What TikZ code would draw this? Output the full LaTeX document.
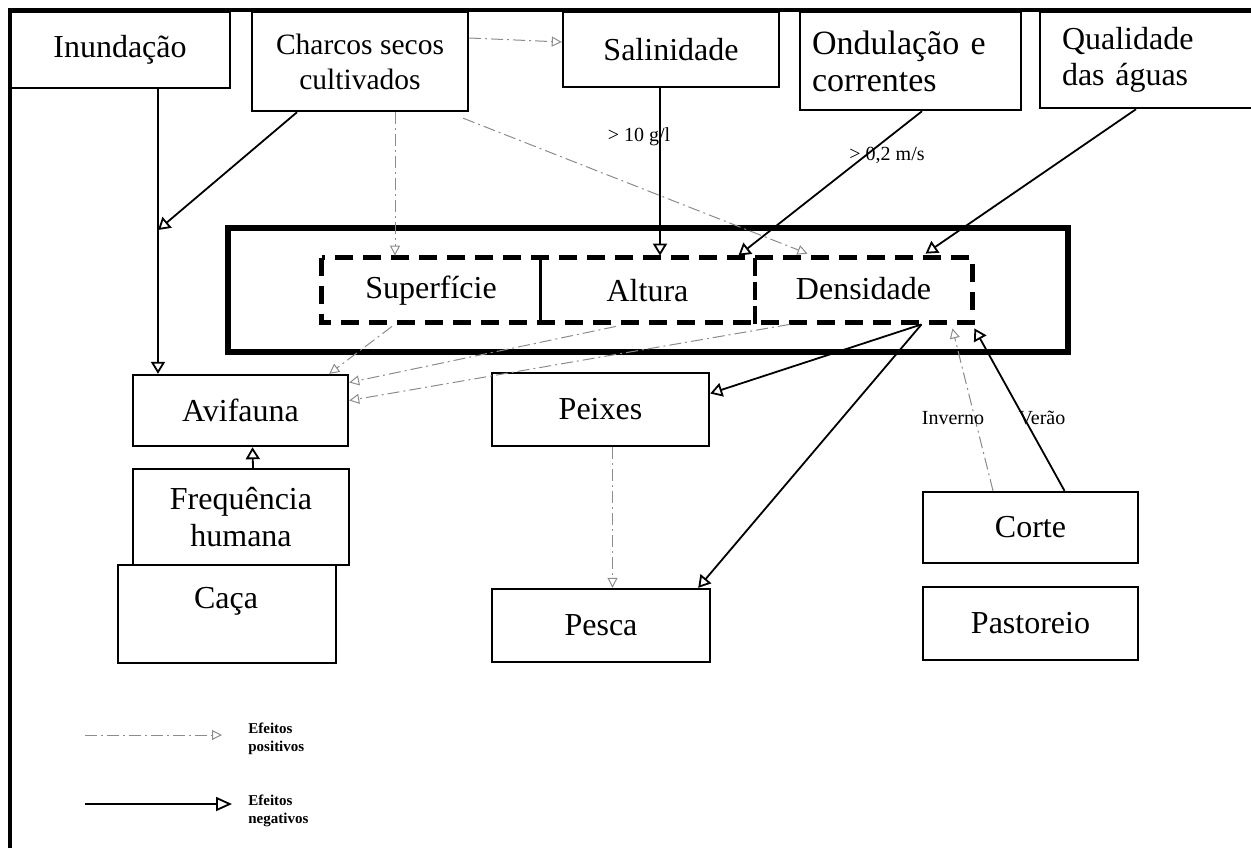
\documentclass[tikz,border=0pt]{standalone}
\usepackage{fontspec}
\setmainfont{Liberation Serif}
\usetikzlibrary{arrows.meta}
\begin{document}
\begin{tikzpicture}[x=0.5pt,y=-0.5pt,
  box/.style={draw, line width=1.2pt, inner sep=0pt, align=center,
              font=\fontsize{16}{18}\selectfont},
  plain/.style={inner sep=0pt, align=center, font=\fontsize{16}{19}\selectfont},
  negfx/.style={draw, line width=0.9pt, -{Triangle[open,length=6pt,width=7pt]}},
  posfx/.style={draw=black!45, line width=0.5pt,
              dash pattern=on 6pt off 2pt on 1pt off 2pt,
              -{Triangle[open,length=5pt,width=5pt]}},
  lbl/.style={font=\fontsize{10}{12}\selectfont, inner sep=1pt},
  legtext/.style={anchor=west, align=left, inner sep=0pt,
                  font=\bfseries\fontsize{7.5}{9}\selectfont},
]
\useasboundingbox (0,0) rectangle (1251,848);

% outer frame (left and top rules)
\draw[line width=2pt] (10,848) -- (10,10) -- (1262,10);

% driving factors along the top
\node[box, minimum width=110pt, minimum height=38pt] (inund) at (120,50) {Inundação};
\node[box, font=\fontsize{14.75}{17.5}\selectfont, minimum width=108pt, minimum height=49.5pt] (charcos) at (360,61.5) {Charcos secos\\cultivados};
\node[box, minimum width=108pt, minimum height=37.5pt] (salin) at (671,49.5) {Salinidade};
\node[box, font=\fontsize{17}{18.5}\selectfont, align=left, text width=98.5pt, inner xsep=6pt, minimum height=49pt] (ondul) at (910.5,61) {Ondulação e\\correntes};
\node[box, align=left, text width=88pt, inner xsep=11pt, minimum height=48pt] (qual) at (1150,60) {Qualidade\\das águas};

% water body: surface, depth and density
\node[draw, line width=3pt, inner sep=0pt, minimum width=420pt, minimum height=62pt] (water) at (648,290) {};
\node[plain, minimum width=109pt, minimum height=35pt] (sup) at (431,291) {Superfície};
\node[plain, minimum width=107.5pt, minimum height=35pt] (alt) at (647.5,291) {Altura};
\node[plain, minimum width=108.5pt, minimum height=35pt] (den) at (863.5,289) {Densidade};
\draw[line width=2.5pt, dash pattern=on 9pt off 5pt] ([yshift=-1pt]sup.north west) rectangle ([yshift=1pt]den.south east);
\draw[line width=1.5pt] ([yshift=-1pt]sup.north east) -- ([yshift=1pt]sup.south east);
\draw[line width=2pt, dash pattern=on 9pt off 3pt] ([yshift=-1pt]alt.north east) -- ([yshift=1pt]alt.south east);

% affected components and uses
\node[box, minimum width=107.5pt, minimum height=35.5pt] (avif) at (240.5,410.5) {Avifauna};
\node[box, font=\fontsize{16}{18.5}\selectfont, minimum width=108pt, minimum height=48pt] (freq) at (241,517) {Frequência\\humana};
\node[box, minimum width=109pt, minimum height=49pt] (caca) at (227,614) {};
\node[plain, anchor=base] (cacatxt) at (226,608) {Caça};
\node[box, minimum width=108.5pt, minimum height=36.5pt] (peixes) at (600.5,409.5) {Peixes};
\node[box, minimum width=109pt, minimum height=36.5pt] (pesca) at (601,625.5) {Pesca};
\node[box, minimum width=107.5pt, minimum height=35.5pt] (corte) at (1030.5,527.5) {Corte};
\node[box, minimum width=107.5pt, minimum height=36.5pt] (past) at (1030.5,623.5) {Pastoreio};

% negative effects
\coordinate (junc) at (158,230);
\draw[line width=0.8pt] (inund.south -| junc) -- (junc);
\draw[negfx] (junc) -- (avif.north -| junc);
\draw[negfx] ([xshift=-31.5pt]charcos.south) -- (junc);
\draw[negfx] ([xshift=-5.5pt]salin.south) -- ([xshift=-5.5pt]salin.south |- alt.north);
\node[lbl] (lsal) at (639,137) {> 10 g/l};
\draw[negfx] ([xshift=5.75pt]ondul.south) -- ([xshift=-8.5pt]alt.north east);
\node[lbl] (lond) at (887,155) {> 0,2 m/s};
\draw[negfx] ([xshift=-7pt]qual.south) -- ([xshift=31pt]den.north);
\draw[negfx] ([xshift=29pt]den.south) -- ([yshift=8pt]peixes.east);
\draw[negfx] ([xshift=29pt]den.south) -- ([xshift=-6.5pt]pesca.north east);
\draw[negfx] ([xshift=17pt]corte.north) -- ([xshift=1pt,yshift=-2pt]den.south east);
\node[lbl] (lver) at (1042,418) {Verão};
\draw[negfx] ([xshift=6pt]freq.north) -- ([xshift=6pt]avif.south);

% positive effects
\draw[posfx] ([yshift=11.75pt]charcos.east) -- ([yshift=3.75pt]salin.west);
\draw[posfx] ([xshift=17.5pt]charcos.south) -- ([xshift=17.5pt]charcos.south |- sup.north);
\draw[posfx] ([xshift=-3pt,yshift=-3pt]charcos.south east) -- ([xshift=-28pt]den.north);
\draw[posfx] ([xshift=-19.5pt]sup.south) -- ([xshift=-10pt]avif.north east);
\draw[posfx] ([xshift=-15.75pt]alt.south) -- ([yshift=14pt]avif.east);
\draw[posfx] ([xshift=17.5pt]den.south west) -- ([yshift=5pt]avif.east);
\draw[posfx] ([xshift=6pt]peixes.south) -- ([xshift=6pt]peixes.south |- pesca.north);
\draw[posfx] ([xshift=-18.75pt]corte.north) -- ([xshift=-10pt,yshift=-2pt]den.south east);
\node[lbl] (linv) at (953,418) {Inverno};

% legend
\coordinate (lpa) at (85,735);
\coordinate (lpb) at (222,735);
\draw[posfx] (lpa) -- (lpb);
\node[legtext] (lpos) at (248,739) {Efeitos\\positivos};
\coordinate (lna) at (85,804);
\coordinate (lnb) at (232,804);
\draw[negfx, -{Triangle[open,length=8pt,width=7pt]}] (lna) -- (lnb);
\node[legtext] (lneg) at (248,811) {Efeitos\\negativos};
\end{tikzpicture}
\end{document}
